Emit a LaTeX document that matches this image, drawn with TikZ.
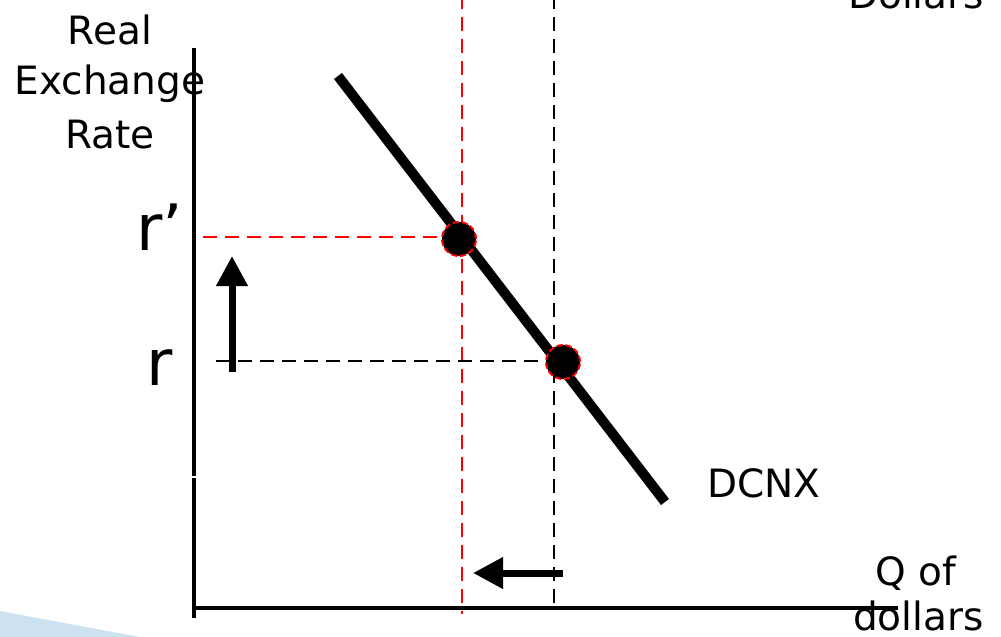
\documentclass[tikz,border=0pt]{standalone}
\usepackage{fontspec}
\setmainfont{DejaVu Sans}
\usetikzlibrary{arrows.meta}
\definecolor{paleblue}{RGB}{205,226,240}
\tikzset{
  lbl/.style={inner sep=0pt, font=\fontsize{39}{47}\selectfont},
  big/.style={inner sep=0pt, font=\fontsize{64}{70}\selectfont},
  axis/.style={line width=4.5pt, black},
  demand/.style={line width=10pt, black},
  guideblack/.style={line width=2.2pt, black, dash pattern=on 14pt off 8pt},
  guidered/.style={line width=2.2pt, red, dash pattern=on 14pt off 8pt},
  dot/.style={circle, fill=black, draw=red, line width=2pt, dash pattern=on 6pt off 3pt, minimum size=34pt, inner sep=0pt},
  shiftarrow/.style={line width=7pt, -{Triangle[length=30pt,width=30pt]}}
}
\begin{document}
\begin{tikzpicture}[x=1pt,y=-1pt]
\useasboundingbox (0,0) rectangle (1001,637);
\clip (0,0) rectangle (1001,637);
% light blue decoration at bottom left
\fill[paleblue] (0,611) -- (140,637) -- (0,637) -- cycle;

% coordinates
\coordinate (ytop) at (194,48);
\coordinate (ygap1) at (194,476);
\coordinate (ygap2) at (194,478);
\coordinate (ybot) at (194,618);
\coordinate (xl) at (194,608);
\coordinate (xr) at (898,608);
\coordinate (dtop) at (338,76);
\coordinate (dbot) at (665,502);
\coordinate (rvtop) at (462,-5);
\coordinate (rvbot) at (462,614);
\coordinate (bvtop) at (554,-5);
\coordinate (bvbot) at (554,606);
\coordinate (rhl) at (203,237);
\coordinate (bhl) at (216,361);
\coordinate (c1) at (459,239);
\coordinate (c2) at (563,362);
\coordinate (ua1) at (232,372);
\coordinate (ua2) at (232,256);
\coordinate (la1) at (563,573);
\coordinate (la2) at (473,573);

% guides
\draw[guidered] (rvtop) -- (rvbot);
\draw[guideblack] (bvtop) -- (bvbot);
\draw[guidered] (rhl) -- (rhl -| c1);
\draw[guideblack] (bhl) -- (bhl -| c2);

% axes
\draw[axis] (ytop) -- (ygap1);
\draw[axis] (ygap2) -- (ybot);
\draw[axis] (xl) -- (xr);

% demand curve
\draw[demand] (dtop) -- (dbot);

% dots
\node[dot] (p1) at (c1) {};
\node[dot] (p2) at (c2) {};

% arrows
\draw[shiftarrow] (ua1) -- (ua2);
\draw[shiftarrow] (la1) -- (la2);

% labels
\node[lbl, anchor=base] (t1) at (110,44) {Real};
\node[lbl, anchor=base] (t2) at (110,94) {Exchange};
\node[lbl, anchor=base] (t3) at (110,148) {Rate};
\node[big, anchor=base] (rp) at (160,250) {r’};
\node[big, anchor=base] (r) at (160,385) {r};
\node[lbl, anchor=base west] (dcnx) at (707,497) {DCNX};
\node[lbl, anchor=base west] (q1) at (875,585) {Q of};
\node[lbl, anchor=base west] (q2) at (853,630) {dollars};
\node[lbl, anchor=base west] (dol) at (848,9) {Dollars};
\end{tikzpicture}
\end{document}
